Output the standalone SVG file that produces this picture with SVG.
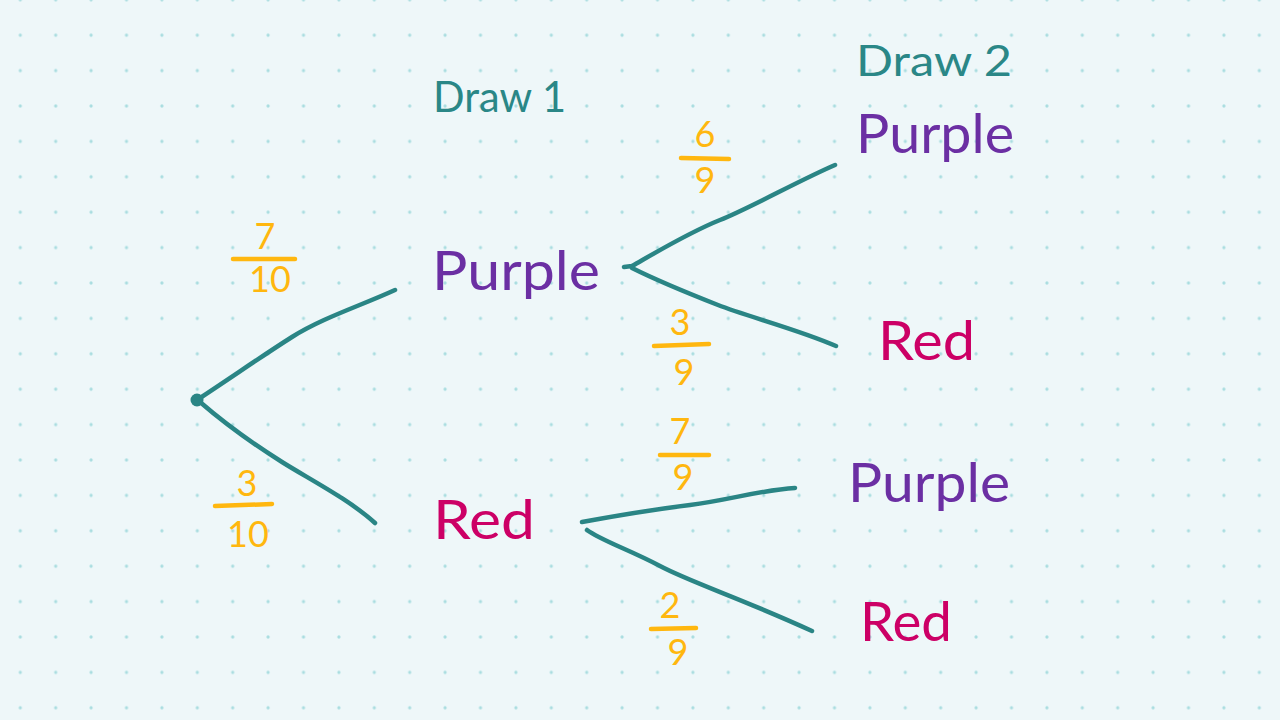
<svg xmlns="http://www.w3.org/2000/svg" width="1280" height="720" viewBox="0 0 1280 720">
  <defs>
    <pattern id="dots" x="20.3" y="-0.2" width="35.4" height="35.4" patternUnits="userSpaceOnUse">
      <circle cx="0" cy="0" r="1.6" fill="#a9dde0"/>
      <circle cx="35.4" cy="0" r="1.6" fill="#a9dde0"/>
      <circle cx="0" cy="35.4" r="1.6" fill="#a9dde0"/>
      <circle cx="35.4" cy="35.4" r="1.6" fill="#a9dde0"/>
    </pattern>
    <style>
      .t { font-family: "Lato", "Noto Sans", "Liberation Sans", sans-serif; }
      .head { fill: #2a8787; font-size: 42px; }
      .pur { fill: #6b2fa3; font-size: 54px; }
      .red { fill: #cc0066; font-size: 54px; }
      .num { fill: #ffb70f; font-size: 36px; text-anchor: middle; }
      .branch { fill: none; stroke: #2a8585; stroke-width: 4.5; stroke-linecap: round; stroke-linejoin: round; }
      .bar { fill: none; stroke: #ffb70f; stroke-width: 4.5; stroke-linecap: round; }
    </style>
  </defs>
  <rect width="1280" height="720" fill="#eef7f9"/>
  <rect width="1280" height="720" fill="url(#dots)"/>

  <g id="connectors">
    <path class="branch" d="M197 400 C 235 375, 262 356, 292 337 S 360 306, 395 290"/>
    <path class="branch" d="M200 402 C 230 428, 255 445, 282 462 S 350 500, 375 523"/>
    <path class="branch" d="M624 267 L 632 266 C 660 250, 690 232, 720 220 S 800 180, 835 165"/>
    <path class="branch" d="M632 268 C 660 282, 690 294, 718 305 S 800 330, 836 346"/>
    <path class="branch" d="M582 522 C 620 515, 650 510, 690 505 S 760 490, 795 488"/>
    <path class="branch" d="M587 530 C 600 540, 630 550, 660 566 S 740 598, 812 631"/>
  </g>

  <g id="root">
    <circle cx="197" cy="400" r="6.5" fill="#2a8585"/>
  </g>

  <g id="draw1-header">
    <text class="t head" x="433" y="112" textLength="133" lengthAdjust="spacingAndGlyphs">Draw 1</text>
  </g>
  <g id="draw2-header">
    <text class="t head" x="856" y="76" textLength="156" lengthAdjust="spacingAndGlyphs">Draw 2</text>
  </g>

  <g id="node-purple-1">
    <text class="t pur" x="432" y="290" textLength="168" lengthAdjust="spacingAndGlyphs">Purple</text>
  </g>
  <g id="node-red-1">
    <text class="t red" x="433" y="539" textLength="102" lengthAdjust="spacingAndGlyphs">Red</text>
  </g>
  <g id="node-purple-pp">
    <text class="t pur" x="856" y="153" textLength="158" lengthAdjust="spacingAndGlyphs">Purple</text>
  </g>
  <g id="node-red-pr">
    <text class="t red" x="878" y="360" textLength="97" lengthAdjust="spacingAndGlyphs">Red</text>
  </g>
  <g id="node-purple-rp">
    <text class="t pur" x="848" y="502" textLength="162" lengthAdjust="spacingAndGlyphs">Purple</text>
  </g>
  <g id="node-red-rr">
    <text class="t red" x="860" y="641" textLength="92" lengthAdjust="spacingAndGlyphs">Red</text>
  </g>

  <g id="prob-7-10">
    <text class="t num" x="265" y="249">7</text>
    <line class="bar" x1="233" y1="259" x2="295" y2="259"/>
    <text class="t num" x="270" y="292">10</text>
  </g>
  <g id="prob-3-10">
    <text class="t num" x="247" y="496">3</text>
    <line class="bar" x1="215" y1="506" x2="272" y2="504"/>
    <text class="t num" x="248" y="547">10</text>
  </g>
  <g id="prob-6-9">
    <text class="t num" x="705" y="147">6</text>
    <line class="bar" x1="681" y1="158" x2="729" y2="159"/>
    <text class="t num" x="705" y="193">9</text>
  </g>
  <g id="prob-3-9">
    <text class="t num" x="680" y="335">3</text>
    <line class="bar" x1="654" y1="346" x2="709" y2="344"/>
    <text class="t num" x="684" y="385">9</text>
  </g>
  <g id="prob-7-9">
    <text class="t num" x="680" y="444">7</text>
    <line class="bar" x1="660" y1="455" x2="709" y2="455"/>
    <text class="t num" x="683" y="490">9</text>
  </g>
  <g id="prob-2-9">
    <text class="t num" x="670" y="618">2</text>
    <line class="bar" x1="651" y1="629" x2="696" y2="628"/>
    <text class="t num" x="678" y="665">9</text>
  </g>
</svg>
